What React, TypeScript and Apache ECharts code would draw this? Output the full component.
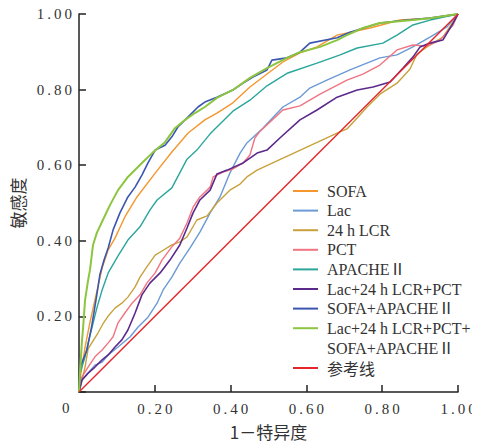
import React, { useEffect, useRef } from "react";
import * as echarts from "echarts";

const seriesNames = [
  "SOFA",
  "Lac",
  "24 h LCR",
  "PCT",
  "APACHEⅡ",
  "Lac+24 h LCR+PCT",
  "SOFA+APACHEⅡ",
  "Lac+24 h LCR+PCT+SOFA+APACHEⅡ",
  "参考线",
];
const seriesColors = ["#F5962E", "#6B9AD5", "#C8A13C", "#F17480", "#2AA69B", "#5B2A8C", "#3A56B0", "#8CC540", "#E4262A"];

const sofa = [[0,0],[0.005,0.05],[0.016,0.119],[0.029,0.185],[0.045,0.257],[0.061,0.328],[0.077,0.376],[0.095,0.407],[0.121,0.463],[0.153,0.516],[0.201,0.579],[0.245,0.635],[0.288,0.685],[0.332,0.72],[0.364,0.738],[0.406,0.765],[0.451,0.807],[0.538,0.873],[0.583,0.897],[0.628,0.913],[0.681,0.944],[0.768,0.963],[0.847,0.984],[0.926,0.989],[1,1]];
const lac = [[0,0],[0.008,0.032],[0.024,0.05],[0.042,0.071],[0.061,0.079],[0.077,0.098],[0.103,0.119],[0.135,0.146],[0.156,0.172],[0.182,0.198],[0.206,0.235],[0.222,0.27],[0.245,0.304],[0.266,0.341],[0.293,0.381],[0.319,0.423],[0.346,0.474],[0.372,0.516],[0.398,0.579],[0.425,0.632],[0.443,0.659],[0.485,0.698],[0.538,0.754],[0.583,0.78],[0.609,0.804],[0.654,0.825],[0.715,0.852],[0.794,0.884],[0.839,0.892],[0.881,0.913],[0.926,0.939],[0.971,0.966],[1,1]];
const lcr24 = [[0,0],[0.008,0.032],[0.016,0.066],[0.024,0.114],[0.037,0.135],[0.05,0.156],[0.063,0.18],[0.077,0.201],[0.095,0.222],[0.113,0.235],[0.129,0.251],[0.148,0.278],[0.161,0.304],[0.179,0.331],[0.201,0.362],[0.219,0.373],[0.245,0.389],[0.266,0.397],[0.285,0.41],[0.311,0.455],[0.338,0.466],[0.364,0.5],[0.398,0.534],[0.425,0.55],[0.443,0.569],[0.47,0.587],[0.504,0.603],[0.681,0.685],[0.707,0.696],[0.734,0.725],[0.76,0.754],[0.794,0.788],[0.839,0.817],[0.873,0.854],[0.892,0.894],[0.918,0.913],[0.96,0.939],[0.987,0.979],[1,1]];
const pct = [[0,0],[0.003,0.032],[0.024,0.066],[0.042,0.093],[0.061,0.111],[0.077,0.13],[0.09,0.146],[0.103,0.183],[0.121,0.209],[0.14,0.235],[0.161,0.257],[0.179,0.288],[0.201,0.315],[0.219,0.349],[0.245,0.384],[0.266,0.407],[0.285,0.447],[0.301,0.489],[0.319,0.516],[0.346,0.542],[0.354,0.569],[0.38,0.582],[0.406,0.59],[0.433,0.606],[0.451,0.627],[0.464,0.672],[0.478,0.69],[0.538,0.746],[0.583,0.757],[0.636,0.788],[0.707,0.825],[0.749,0.841],[0.794,0.865],[0.839,0.905],[0.881,0.918],[0.918,0.915],[0.953,0.931],[0.987,0.971],[1,1]];
const apache = [[0,0],[0.003,0.05],[0.016,0.093],[0.024,0.13],[0.034,0.169],[0.047,0.222],[0.061,0.27],[0.077,0.315],[0.103,0.36],[0.129,0.402],[0.161,0.437],[0.187,0.481],[0.206,0.508],[0.245,0.54],[0.285,0.616],[0.311,0.64],[0.346,0.683],[0.406,0.743],[0.451,0.772],[0.496,0.81],[0.551,0.844],[0.628,0.87],[0.689,0.892],[0.734,0.91],[0.802,0.923],[0.839,0.944],[0.881,0.971],[0.926,0.984],[1,1]];
const lacLcrPct = [[0,0],[0.008,0.032],[0.024,0.05],[0.042,0.066],[0.061,0.085],[0.077,0.098],[0.095,0.119],[0.113,0.138],[0.129,0.164],[0.148,0.209],[0.166,0.257],[0.187,0.288],[0.214,0.315],[0.24,0.349],[0.266,0.389],[0.285,0.434],[0.301,0.474],[0.319,0.508],[0.346,0.534],[0.364,0.577],[0.391,0.587],[0.433,0.606],[0.47,0.632],[0.496,0.64],[0.53,0.672],[0.583,0.72],[0.628,0.746],[0.681,0.78],[0.734,0.799],[0.776,0.807],[0.821,0.82],[0.855,0.857],[0.881,0.886],[0.9,0.913],[0.926,0.923],[0.96,0.931],[0.987,0.976],[1,1]];
const sofaApache = [[0,0],[0.003,0.066],[0.021,0.111],[0.034,0.177],[0.047,0.257],[0.055,0.31],[0.066,0.349],[0.077,0.381],[0.09,0.429],[0.108,0.474],[0.129,0.516],[0.148,0.542],[0.166,0.574],[0.182,0.606],[0.201,0.64],[0.227,0.653],[0.245,0.675],[0.261,0.701],[0.288,0.728],[0.314,0.754],[0.332,0.767],[0.364,0.78],[0.406,0.799],[0.433,0.817],[0.459,0.833],[0.496,0.852],[0.509,0.878],[0.549,0.884],[0.583,0.899],[0.609,0.923],[0.681,0.937],[0.715,0.952],[0.794,0.976],[0.865,0.984],[0.926,0.989],[1,1]];
const combined = [[0,0],[0.003,0.058],[0.008,0.138],[0.011,0.172],[0.016,0.243],[0.024,0.296],[0.029,0.323],[0.037,0.389],[0.047,0.421],[0.063,0.455],[0.082,0.495],[0.103,0.534],[0.129,0.569],[0.166,0.606],[0.193,0.632],[0.227,0.661],[0.253,0.698],[0.28,0.72],[0.306,0.738],[0.332,0.754],[0.364,0.778],[0.406,0.799],[0.451,0.831],[0.496,0.857],[0.549,0.884],[0.583,0.899],[0.636,0.913],[0.681,0.931],[0.707,0.944],[0.749,0.963],[0.794,0.976],[0.881,0.984],[0.926,0.989],[1,1]];
const reference = [[0,0],[1,1]];

const seriesData = [sofa, lac, lcr24, pct, apache, lacLcrPct, sofaApache, combined, reference];
const seriesWidths = [1.4, 1.4, 1.4, 1.4, 1.4, 1.6, 1.6, 2, 1.4];

const SERIF = "'Liberation Serif', 'Noto Sans CJK SC', serif";
const CJK = "'Noto Sans CJK SC', sans-serif";
const spaced = (s: string) => s.split("").join("\u2009");

export default function App() {
  const ref = useRef<HTMLDivElement>(null);
  useEffect(() => {
    if (!ref.current) return;
    const chart = echarts.init(ref.current, undefined, { renderer: "svg" });
    const tickFmt = (v: number) => (v === 0 ? "" : spaced(v.toFixed(2)));
    const axisCommon = {
      type: "value" as const,
      min: 0,
      max: 1,
      interval: 0.2,
      splitLine: { show: false },
      axisLine: { show: true, lineStyle: { color: "#222", width: 1.5 } },
      axisTick: { show: true, inside: true, length: 7, lineStyle: { color: "#222", width: 1.5 } },
      axisLabel: { formatter: tickFmt, color: "#333", fontFamily: SERIF, fontSize: 15 },
    };
    const legendCommon = {
      orient: "vertical" as const,
      left: 293,
      padding: 0,
      itemWidth: 29,
      itemHeight: 2,
      icon: "path://M0,0H25V2H0ZM29,1",
      selectedMode: false,
    };
    chart.setOption({
      animation: false,
      grid: { left: 79, right: 22, top: 14, bottom: 53 },
      xAxis: {
        ...axisCommon,
        axisLabel: { ...axisCommon.axisLabel, margin: 9 },
        name: "1－特异度",
        nameLocation: "middle",
        nameGap: 31,
        nameTextStyle: { fontFamily: CJK, fontSize: 17, color: "#333" },
      },
      yAxis: {
        ...axisCommon,
        axisLabel: { ...axisCommon.axisLabel, margin: 7 },
        name: "敏感度",
        nameLocation: "middle",
        nameGap: 53,
        nameRotate: 90,
        nameTextStyle: { fontFamily: CJK, fontSize: 17, color: "#333" },
      },
      legend: [
        {
          ...legendCommon,
          data: seriesNames.slice(0, 8),
          top: 183,
          itemGap: 3.6,
          formatter: (n: string) => (n.startsWith("Lac+24 h LCR+PCT+") ? "Lac+24 h LCR+PCT+" : n),
          textStyle: { fontFamily: SERIF, fontSize: 16, color: "#333", lineHeight: 16 },
        },
        {
          ...legendCommon,
          data: [seriesNames[8]],
          top: 360,
          textStyle: { fontFamily: CJK, fontSize: 16, color: "#333", lineHeight: 16 },
        },
      ],
      graphic: [
        { type: "text", left: 327, top: 340, style: { text: "SOFA+APACHEⅡ", font: `16px ${SERIF}`, fill: "#333" } },
        { type: "text", left: 62, top: 400, style: { text: "0", font: `15px ${SERIF}`, fill: "#333" } },
      ],
      series: seriesNames.map((name, i) => ({
        name,
        type: "line",
        data: seriesData[i],
        showSymbol: false,
        symbol: "none",
        color: seriesColors[i],
        lineStyle: { color: seriesColors[i], width: seriesWidths[i] },
        z: i === 8 ? 3 : 2,
      })),
    });
    return () => chart.dispose();
  }, []);
  return <div ref={ref} style={{ width: 480, height: 445, marginLeft: -8, marginTop: -8 }} />;
}
